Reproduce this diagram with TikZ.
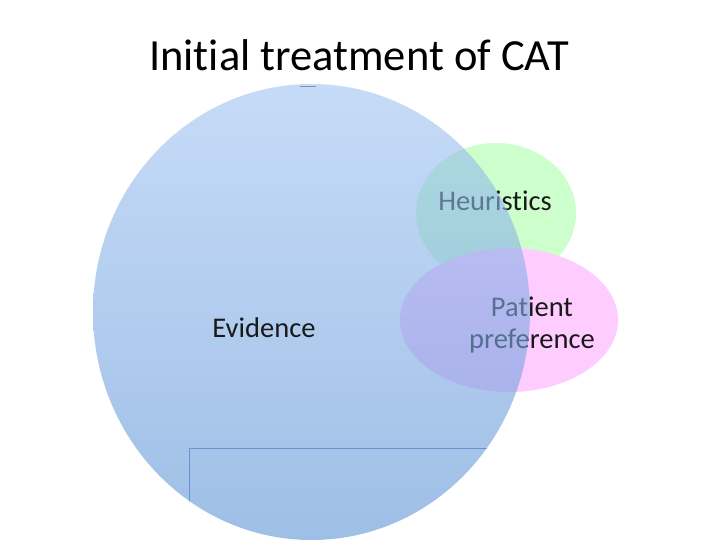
\documentclass[tikz,border=0pt]{standalone}
\usepackage{fontspec}
\setmainfont{Carlito}[Ligatures=NoCommon]
\definecolor{evtop}{RGB}{160,195,242}
\definecolor{evbot}{RGB}{93,147,213}
\definecolor{heur}{RGB}{204,255,204}
\definecolor{pref}{RGB}{255,204,255}
\definecolor{rectline}{RGB}{110,145,205}
\definecolor{tickline}{RGB}{130,145,175}
\begin{document}
\begin{tikzpicture}[x=1pt,y=-1pt,
  lbl/.style={font=\fontsize{28.5}{32}\selectfont, align=center, text=black!90, inner sep=0pt}]
\useasboundingbox (0,0) rectangle (720,540);
\clip (0,0) rectangle (720,540);
% title
\node[font=\fontsize{44.5}{50}\selectfont] (title) at (359,55) {Initial treatment of CAT};
% heuristics circle
\fill[heur] (496,213) ellipse [x radius=80, y radius=70];
\node[lbl] (heurtxt) at (495,201) {Heuristics};
% patient preference ellipse
\fill[pref] (509,320) ellipse [x radius=109, y radius=72];
\node[lbl] (preftxt) at (532,325) {Patient\\preference};
% evidence ellipse (translucent, on top)
\shade[top color=evtop, bottom color=evbot, fill opacity=0.6] (311.5,312) ellipse [x radius=218.5, y radius=228];
\node[lbl] (evtxt) at (264,328) {Evidence};
% artefact lines
\begin{scope}
  \clip (311.5,312) ellipse [x radius=218.5, y radius=228];
  \draw[rectline, line width=0.8pt] (189,545) -- (189,448) -- (720,448);
\end{scope}
\draw[tickline, line width=0.9pt] (300,86.5) -- (316,86.5);
\end{tikzpicture}
\end{document}
